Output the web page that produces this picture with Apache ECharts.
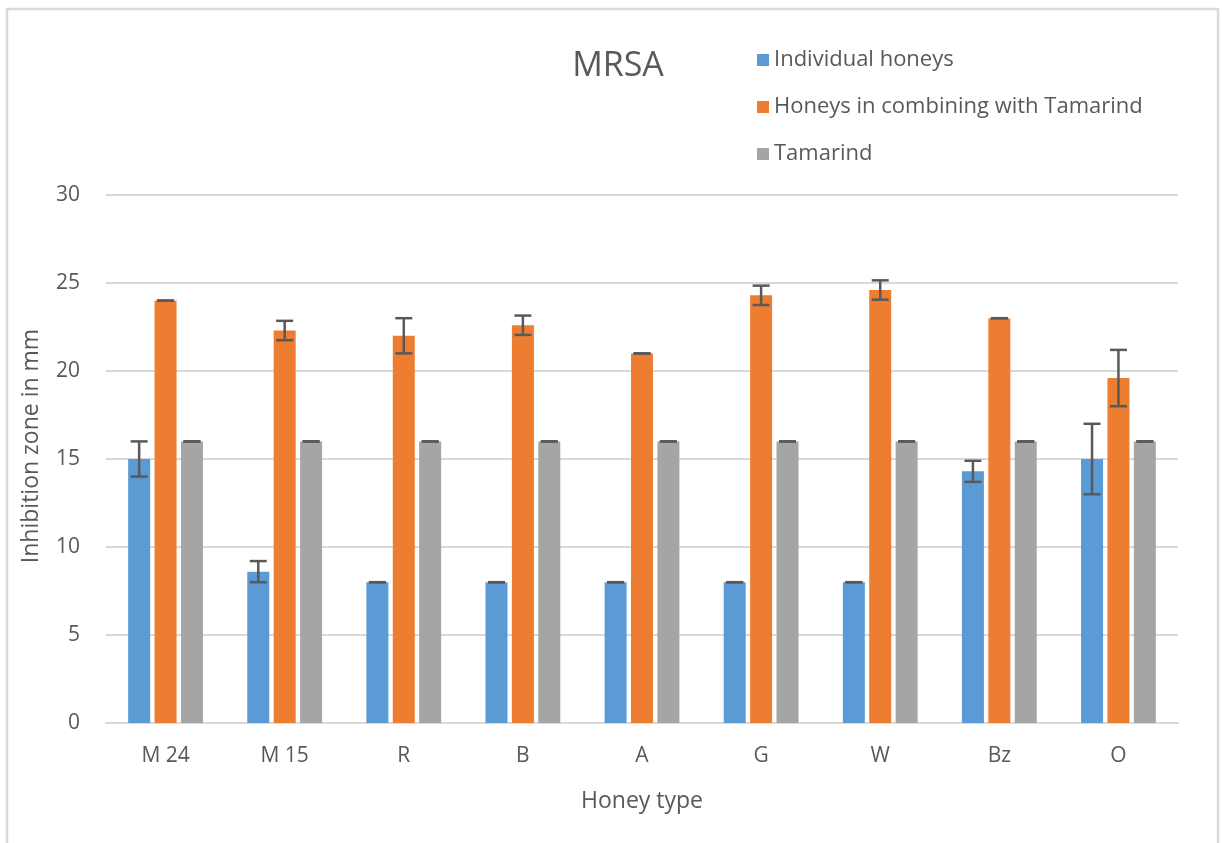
<!DOCTYPE html>
<html>
<head>
<meta charset="utf-8">
<script src="https://cdn.jsdelivr.net/npm/echarts@6/dist/echarts.min.js"></script>
<style>
  html, body { margin: 0; padding: 0; background: #fff; }
  #chart { width: 1222px; height: 843px; }
</style>
</head>
<body>
<div id="chart"></div>
<script>
// honey types on the x axis
const categories = ['M 24', 'M 15', 'R', 'B', 'A', 'G', 'W', 'Bz', 'O']
const seriesNames = ['Individual honeys', 'Honeys in combining with Tamarind', 'Tamarind']

// inhibition zone (mm)
const individual = [15, 8.6, 8, 8, 8, 8, 8, 14.3, 15]
const combined = [24, 22.3, 22, 22.6, 21, 24.3, 24.6, 23, 19.6]
const tamarind = [16, 16, 16, 16, 16, 16, 16, 16, 16]

// +/- error values
const individualErr = [1, 0.6, 0, 0, 0, 0, 0, 0.6, 2]
const combinedErr = [0, 0.55, 1, 0.55, 0, 0.55, 0.55, 0, 1.6]
const tamarindErr = [0, 0, 0, 0, 0, 0, 0, 0, 0]

const colors = ['#5b9bd5', '#ed7d31', '#a5a5a5']
const textColor = '#595959'
const font = 'Open Sans'

const chart = echarts.init(document.getElementById('chart'))

// offset of each bar from the category centre, px
const barOffset = 26.4

const errData = []
;[[individual, individualErr], [combined, combinedErr], [tamarind, tamarindErr]].forEach((pair, s) => {
  pair[0].forEach((v, i) => {
    errData.push([i, v, pair[1][i], s])
  })
})

const renderErr = (params, api) => {
  const i = api.value(0)
  const v = api.value(1)
  const e = api.value(2)
  const s = api.value(3)
  const top = api.coord([i, v + e])
  const bot = api.coord([i, v - e])
  const x = top[0] + (s - 1) * barOffset
  const half = 8.5
  const style = { stroke: '#595959', lineWidth: 2.5 }
  return {
    type: 'group',
    children: [
      { type: 'line', shape: { x1: x, y1: top[1], x2: x, y2: bot[1] }, style },
      { type: 'line', shape: { x1: x - half, y1: top[1], x2: x + half, y2: top[1] }, style },
      { type: 'line', shape: { x1: x - half, y1: bot[1], x2: x + half, y2: bot[1] }, style }
    ]
  }
}

const option = {
  animation: false,
  title: {
    text: 'MRSA',
    left: 613,
    top: 44,
    textAlign: 'center',
    textStyle: { color: textColor, fontFamily: font, fontWeight: 'normal', fontSize: 34 }
  },
  legend: {
    orient: 'vertical',
    left: 752,
    top: 44,
    itemWidth: 12,
    itemHeight: 12,
    itemGap: 25,
    icon: 'rect',
    data: seriesNames,
    textStyle: { color: textColor, fontFamily: font, fontSize: 22 }
  },
  grid: {
    left: 106,
    right: 44,
    top: 195,
    bottom: 120
  },
  xAxis: {
    type: 'category',
    data: categories,
    name: 'Honey type',
    nameLocation: 'middle',
    nameGap: 67,
    nameTextStyle: { color: textColor, fontFamily: font, fontSize: 23 },
    axisTick: { show: false },
    axisLine: { lineStyle: { color: '#d9d9d9', width: 2 } },
    axisLabel: { color: textColor, fontFamily: font, fontSize: 21, margin: 23 }
  },
  yAxis: {
    type: 'value',
    min: 0,
    max: 30,
    interval: 5,
    name: 'Inhibition zone in mm',
    nameLocation: 'middle',
    nameGap: 63,
    nameTextStyle: { color: textColor, fontFamily: font, fontSize: 23, padding: [0, 0, 0, 26] },
    axisLine: { show: false },
    axisTick: { show: false },
    axisLabel: { color: textColor, fontFamily: font, fontSize: 21, margin: 26 },
    splitLine: { lineStyle: { color: '#d9d9d9', width: 2 } }
  },
  series: [
    { name: seriesNames[0], type: 'bar', data: individual, barWidth: 22, barGap: '20%', itemStyle: { color: colors[0] } },
    { name: seriesNames[1], type: 'bar', data: combined, barWidth: 22, barGap: '20%', itemStyle: { color: colors[1] } },
    { name: seriesNames[2], type: 'bar', data: tamarind, barWidth: 22, barGap: '20%', itemStyle: { color: colors[2] } },
    { type: 'custom', renderItem: renderErr, data: errData, z: 10, silent: true }
  ],
  graphic: [
    {
      type: 'rect',
      shape: { x: 7, y: 9, width: 1211, height: 860 },
      style: { fill: 'none', stroke: '#d9d9d9', lineWidth: 2.5 },
      silent: true
    }
  ]
}

chart.setOption(option)
</script>
</body>
</html>
